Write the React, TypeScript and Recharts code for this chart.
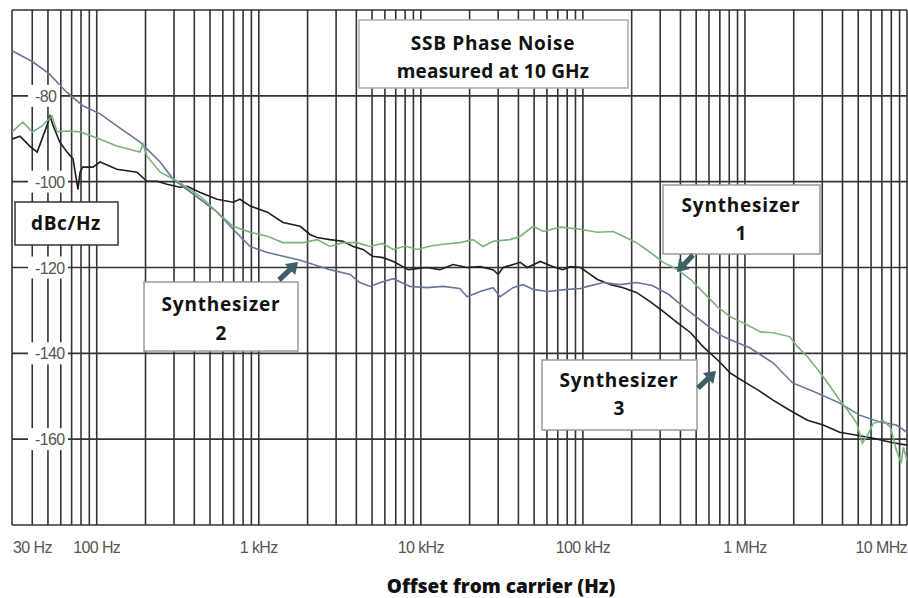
import React from 'react';
import { LineChart, Line, XAxis, YAxis, CartesianGrid } from 'recharts';

// ---- data: [offset frequency (Hz), phase noise (dBc/Hz)] ----
const synth1: [number, number][] = [
  [30, -88.4], [35, -86.1], [40, -88.4], [46, -87.0], [53, -84.7], [57, -88.4], [65, -88.2], [79, -88.4],
  [105, -90.1], [133, -91.7], [185, -93.1], [193, -91.2], [204, -94.0], [246, -97.8], [315, -99.9],
  [435, -103.4], [553, -107.1], [694, -110.4], [886, -111.8], [1130, -112.7], [1410, -114.2], [1890, -114.2],
  [2290, -113.5], [2750, -115.1], [3310, -114.2], [4020, -114.2], [4870, -115.1], [5800, -114.4],
  [6760, -115.8], [8000, -115.0], [9490, -115.8], [11500, -115.0], [13700, -114.6], [17400, -114.2],
  [21000, -113.5], [24200, -115.1], [27900, -113.9], [35500, -113.5], [41100, -112.7], [49300, -110.4],
  [57000, -111.6], [72600, -110.6], [96900, -111.1], [123000, -111.8], [154000, -111.6], [177000, -112.7],
  [214000, -114.2], [261000, -116.5], [314000, -118.8], [384000, -120.5], [462000, -122.8], [553000, -125.8],
  [676000, -129.1], [813000, -131.5], [978000, -132.9], [1250000, -135.0], [1490000, -135.2],
  [1880000, -136.1], [2120000, -138.5], [2430000, -140.8], [2920000, -144.6], [3370000, -147.8],
  [3840000, -150.9], [4300000, -153.2], [4900000, -156.3], [5300000, -160.9], [5700000, -159.1],
  [6200000, -156.3], [7100000, -155.6], [7900000, -157.2], [8600000, -162.6], [9200000, -165.6],
  [9500000, -161.9], [10000000, -164.9],
];

const synth2: [number, number][] = [
  [30, -69.5], [40, -72.0], [51, -74.9], [65, -79.1], [82, -82.3], [105, -84.2], [133, -87.0], [185, -90.8],
  [246, -95.4], [296, -99.4], [435, -104.1], [553, -107.1], [694, -111.1], [886, -115.1], [1130, -116.5],
  [1800, -118.3], [2750, -120.5], [3660, -121.6], [4200, -123.5], [4870, -124.4], [5630, -123.5],
  [6760, -122.6], [8580, -124.4], [10900, -124.7], [13700, -124.4], [17400, -124.9], [19300, -126.8],
  [23200, -125.6], [27900, -124.7], [30800, -126.8], [37000, -124.7], [42800, -124.0], [49300, -125.1],
  [60400, -125.6], [80400, -125.1], [96900, -124.9], [107000, -124.4], [134000, -123.5], [169000, -124.0],
  [214000, -123.5], [268000, -124.2], [339000, -126.3], [416000, -129.1], [508000, -131.7], [609000, -134.0],
  [733000, -136.1], [893000, -137.5], [1070000, -138.7], [1490000, -142.2], [1970000, -146.9],
  [2770000, -149.2], [3840000, -151.6], [5100000, -154.4], [6800000, -156.0], [8600000, -156.7],
  [10000000, -158.4],
];

const synth3: [number, number][] = [
  [30, -90.1], [33.6, -89.4], [38.6, -91.7], [42.9, -93.1], [49.2, -87.0], [51.5, -84.7], [53.9, -87.0],
  [59.2, -90.8], [65.5, -93.1], [71.4, -94.7], [76.6, -101.8], [78.9, -97.8], [82, -96.6], [94.9, -96.6],
  [105, -95.4], [133, -97.1], [177, -97.8], [204, -99.9], [236, -99.9], [271, -100.6], [327, -101.3],
  [362, -101.1], [435, -102.5], [553, -104.1], [694, -104.8], [765, -104.1], [886, -105.7], [1130, -107.1],
  [1410, -109.5], [1800, -110.4], [2070, -112.3], [2290, -113.0], [2750, -113.5], [3310, -113.9],
  [3820, -115.1], [4400, -115.8], [5040, -117.4], [5840, -117.7], [6760, -118.6], [7740, -119.8],
  [8350, -120.5], [10900, -120.0], [13100, -120.5], [15800, -119.3], [19300, -120.0], [23200, -119.8],
  [27900, -120.5], [30000, -121.6], [32200, -120.0], [41100, -118.8], [45300, -120.0], [54600, -118.6],
  [65500, -119.8], [75400, -120.5], [83600, -119.8], [96900, -120.0], [107000, -121.2], [123000, -122.8],
  [149000, -124.0], [177000, -124.7], [214000, -125.8], [261000, -128.0], [314000, -130.3],
  [384000, -132.9], [462000, -135.2], [553000, -138.5], [676000, -141.5], [813000, -144.6],
  [1070000, -147.4], [1200000, -148.5], [1490000, -150.9], [1880000, -153.2], [2430000, -155.6],
  [3040000, -156.7], [3840000, -158.4], [4900000, -159.1], [6200000, -159.8], [7900000, -160.7],
  [10000000, -161.4],
];

// ---- axes ----
const xDomain: [number, number] = [30, 10000000];
const xLabelValues = [30, 100, 1000, 10000, 100000, 1000000, 10000000];
const xLabelTexts = ['30 Hz', '100 Hz', '1 kHz', '10 kHz', '100 kHz', '1 MHz', '10 MHz'];
const decades = [10, 100, 1000, 10000, 100000, 1000000];
const mantissas = [1, 2, 3, 4, 5, 6, 7, 8, 9];
const xGridTicks: number[] = [];
decades.forEach((d) => mantissas.forEach((m) => {
  const v = m * d;
  if (v >= 30 && v <= 10000000) xGridTicks.push(v);
}));
xGridTicks.push(10000000);

const yDomain: [number, number] = [-180, -60];
const yGridTicks = [-180, -160, -140, -120, -100, -80, -60];
const yLabelValues = [-160, -140, -120, -100, -80];

const toRows = (pts: [number, number][]) => pts.map(([f, db]) => ({ f, db }));

const XTick = (props: any) => {
  const { x, payload } = props;
  const i = xLabelValues.indexOf(payload.value);
  if (i < 0) return <g />;
  const anchor = i === 0 ? 'start' : i === xLabelValues.length - 1 ? 'end' : 'middle';
  return (
    <text x={x + (i === 0 ? 1 : 0)} y={553} textAnchor={anchor} fontFamily="Liberation Sans, Arial, sans-serif"
      fontSize={16} letterSpacing={-0.6} fill="#555">{xLabelTexts[i]}</text>
  );
};

const YTick = (props: any) => {
  const { y, payload } = props;
  if (yLabelValues.indexOf(payload.value) < 0) return <g />;
  const label = String(payload.value);
  return (
    <g>
      <rect x={28} y={y - 11} width={8 * label.length + 8} height={22} fill="#fff" />
      <text x={35} y={y + 6} textAnchor="start" fontFamily="Liberation Sans, Arial, sans-serif"
        fontSize={16} letterSpacing={-0.6} fill="#555">{label}</text>
    </g>
  );
};

const ARROW = '#3f5f66';
const arrowPath = (x1: number, y1: number, x2: number, y2: number) => {
  const dx = x2 - x1, dy = y2 - y1;
  const len = Math.hypot(dx, dy);
  const ux = dx / len, uy = dy / len;
  const nx = -uy, ny = ux;
  const hl = 11, hw = 7.5, sw = 2.6;
  const bx = x2 - ux * hl, by = y2 - uy * hl;
  const p = [
    [x1 + nx * sw, y1 + ny * sw], [bx + nx * sw, by + ny * sw], [bx + nx * hw, by + ny * hw], [x2, y2],
    [bx - nx * hw, by - ny * hw], [bx - nx * sw, by - ny * sw], [x1 - nx * sw, y1 - ny * sw],
  ];
  return 'M' + p.map((q) => q[0].toFixed(1) + ',' + q[1].toFixed(1)).join('L') + 'Z';
};

const boxFont = { fontFamily: 'Open Sans, sans-serif', fontWeight: 700, fontSize: 19, fill: '#111' } as const;

const Overlay = () => (
  <svg width={908} height={598} style={{ position: 'absolute', left: 0, top: 0, pointerEvents: 'none' }}>
    {/* title box */}
    <rect x={359} y={20} width={269} height={68} fill="#fff" stroke="#aaa" strokeWidth={1.5} />
    <text x={493} y={50} textAnchor="middle" {...boxFont} letterSpacing={0.7}>SSB Phase Noise</text>
    <text x={493} y={78} textAnchor="middle" {...boxFont} letterSpacing={0.2}>measured at 10 GHz</text>
    {/* unit box */}
    <rect x={15} y={202} width={103} height={43} fill="#fff" stroke="#333" strokeWidth={1.5} />
    <text x={66} y={230} textAnchor="middle" {...boxFont} letterSpacing={0.6}>dBc/Hz</text>
    {/* synthesizer 1 */}
    <rect x={663} y={185} width={157} height={69} fill="#fff" stroke="#999" strokeWidth={1.5} />
    <text x={741} y={212} textAnchor="middle" {...boxFont} letterSpacing={0.8}>Synthesizer</text>
    <text x={741} y={240} textAnchor="middle" {...boxFont}>1</text>
    {/* synthesizer 2 */}
    <rect x={144} y={282} width={154} height={69} fill="#fff" stroke="#999" strokeWidth={1.5} />
    <text x={221} y={311} textAnchor="middle" {...boxFont} letterSpacing={0.8}>Synthesizer</text>
    <text x={221} y={340} textAnchor="middle" {...boxFont}>2</text>
    {/* synthesizer 3 */}
    <rect x={542} y={360} width={155} height={70} fill="#fff" stroke="#999" strokeWidth={1.5} />
    <text x={619} y={387} textAnchor="middle" {...boxFont} letterSpacing={0.8}>Synthesizer</text>
    <text x={619} y={415} textAnchor="middle" {...boxFont}>3</text>
    {/* arrows */}
    <path d={arrowPath(279, 280, 298, 262)} fill={ARROW} />
    <path d={arrowPath(693, 255, 677, 272)} fill={ARROW} />
    <path d={arrowPath(698, 388, 716, 371)} fill={ARROW} />
    {/* x axis title */}
    <text x={501} y={593} textAnchor="middle" fontFamily="Open Sans, sans-serif" fontWeight={800}
      fontSize={19} fill="#111">Offset from carrier (Hz)</text>
  </svg>
);

export default function App() {
  return (
    <div style={{ position: 'absolute', left: 0, top: 0, width: 908, height: 598, background: '#fff' }}>
      <LineChart width={908} height={598} margin={{ top: 10, right: 1, bottom: 43, left: 12 }}>
        <CartesianGrid stroke="#333" strokeWidth={1.6} />
        <XAxis dataKey="f" type="number" scale="log" domain={xDomain} allowDataOverflow ticks={xGridTicks}
          interval={0} axisLine={false} tickLine={false} height={30} tick={<XTick />} />
        <YAxis type="number" domain={yDomain} allowDataOverflow ticks={yGridTicks} interval={0}
          axisLine={false} tickLine={false} mirror width={60} tick={<YTick />} />
        <Line data={toRows(synth3)} dataKey="db" stroke="#1e1e1e" strokeWidth={1.6} dot={false}
          isAnimationActive={false} type="linear" />
        <Line data={toRows(synth2)} dataKey="db" stroke="#6b7599" strokeWidth={1.6} dot={false}
          isAnimationActive={false} type="linear" />
        <Line data={toRows(synth1)} dataKey="db" stroke="#78b47a" strokeWidth={1.6} dot={false}
          isAnimationActive={false} type="linear" />
      </LineChart>
      <Overlay />
    </div>
  );
}
